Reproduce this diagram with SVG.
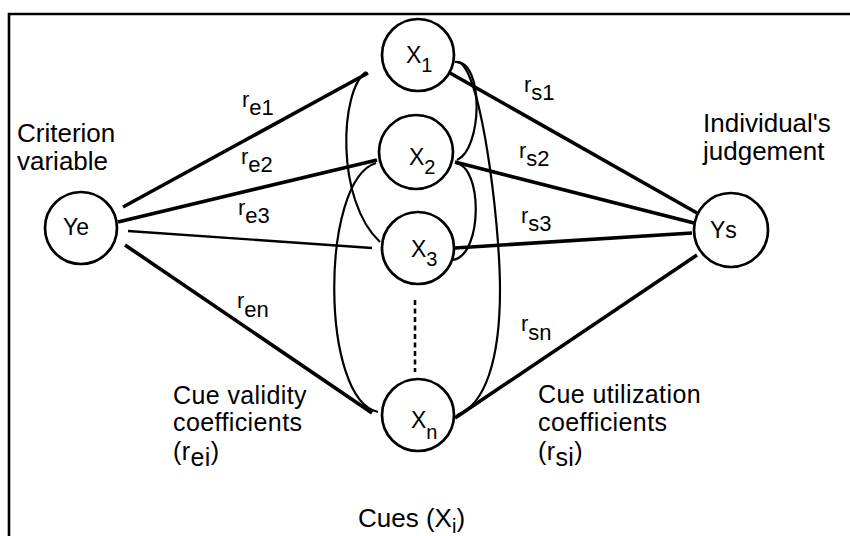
<svg xmlns="http://www.w3.org/2000/svg" width="850" height="536" viewBox="0 0 850 536">
<style>
text{font-family:"Liberation Sans",Arial,Helvetica,sans-serif;fill:#000}
.node{fill:#fff;stroke:#000;stroke-width:2.7}
.nl{font-size:23px}
.lbl{font-size:26px}
.lbs{font-size:25px;letter-spacing:0.4px}
.r{font-size:22px}
.thick{stroke:#000;stroke-width:3.6;fill:none;stroke-linecap:butt}
.thin{stroke:#000;stroke-width:2.4;fill:none}
.arc{stroke:#000;stroke-width:2.2;fill:none}
</style>
<rect width="850" height="536" fill="#fff"/>
<path d="M9 536 V14 H850" fill="none" stroke="#000" stroke-width="2.6"/>
<g id="connectors">
<line class="thick" x1="123" y1="207" x2="368" y2="73"/>
<line class="thick" x1="118" y1="222" x2="377" y2="160"/>
<line class="thin" x1="128" y1="231" x2="372" y2="248"/>
<line class="thick" x1="125" y1="245" x2="372" y2="413"/>
<line class="thick" x1="450" y1="73" x2="697" y2="213"/>
<line class="thick" x1="455" y1="162" x2="694" y2="223"/>
<line class="thick" x1="455" y1="248" x2="692" y2="233"/>
<line class="thick" x1="455" y1="418" x2="697" y2="255"/>
<path class="arc" d="M366 72 C340 90 335 200 380 242"/>
<path class="arc" d="M376 163 C320 180 320 400 378 412"/>
<path class="arc" d="M455 62 C485 60 482 150 457 160"/>
<path class="arc" d="M455 163 C483 165 483 255 453 260"/>
<path class="arc" d="M457 62 C480 62 500 220 500 290 C500 360 485 405 457 415"/>
<line x1="415" y1="300" x2="415" y2="372" stroke="#000" stroke-width="2.6" stroke-dasharray="5 3.5"/>
</g>
<g id="node-Ye"><circle class="node" cx="81" cy="228" r="36"/><text class="nl" x="63" y="235">Ye</text></g>
<g id="node-X1"><circle class="node" cx="418" cy="55" r="36"/><text class="nl" x="406" y="63">X<tspan font-size="20" dy="9">1</tspan></text></g>
<g id="node-X2"><circle class="node" cx="416" cy="152" r="37"/><text class="nl" x="409" y="165">X<tspan font-size="20" dy="9">2</tspan></text></g>
<g id="node-X3"><circle class="node" cx="418" cy="248" r="36"/><text class="nl" x="411" y="257">X<tspan font-size="20" dy="9">3</tspan></text></g>
<g id="node-Xn"><circle class="node" cx="418" cy="415" r="36"/><text class="nl" x="411" y="428">X<tspan font-size="20" dy="11">n</tspan></text></g>
<g id="node-Ys"><circle class="node" cx="731" cy="230" r="37"/><text class="nl" x="710" y="238">Ys</text></g>
<g id="labels">
<text class="r" x="242" y="107">r<tspan dy="8">e1</tspan></text>
<text class="r" x="241" y="164">r<tspan dy="8">e2</tspan></text>
<text class="r" x="238" y="215">r<tspan dy="8">e3</tspan></text>
<text class="r" x="237" y="308">r<tspan dy="9">en</tspan></text>
<text class="r" x="524" y="92">r<tspan dy="8">s1</tspan></text>
<text class="r" x="519" y="158">r<tspan dy="8">s2</tspan></text>
<text class="r" x="521" y="223">r<tspan dy="8">s3</tspan></text>
<text class="r" x="521" y="331">r<tspan dy="9">sn</tspan></text>
<text class="lbl" x="17" y="142">Criterion</text>
<text class="lbl" x="17" y="170">variable</text>
<text class="lbl" x="703" y="132">Individual's</text>
<text class="lbl" x="703" y="160">judgement</text>
<text class="lbs" x="173" y="404">Cue validity</text>
<text class="lbs" x="173" y="431">coefficients</text>
<text class="lbs" x="173" y="460">(r<tspan dy="6">ei</tspan><tspan dy="-6">)</tspan></text>
<text class="lbs" x="538" y="403">Cue utilization</text>
<text class="lbs" x="538" y="431">coefficients</text>
<text class="lbs" x="538" y="460">(r<tspan dy="6">si</tspan><tspan dy="-6">)</tspan></text>
<text class="lbl" x="358" y="527">Cues (X<tspan font-size="20" dy="6">i</tspan><tspan dy="-6">)</tspan></text>
</g>
</svg>
